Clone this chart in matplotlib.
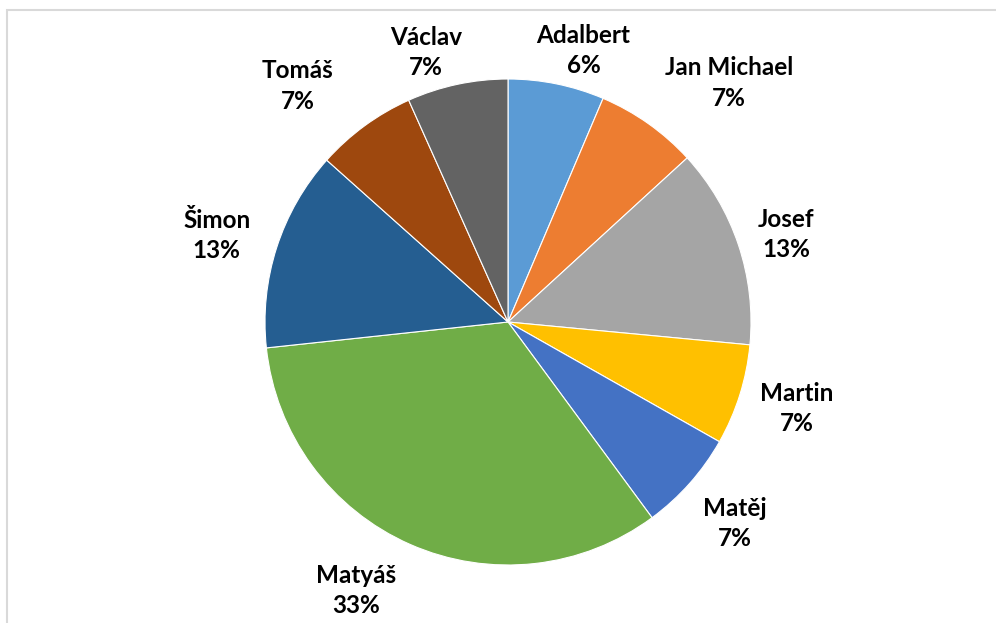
import matplotlib
matplotlib.use("Agg")
import numpy as np
import matplotlib.pyplot as plt
from matplotlib.patches import Rectangle

names = ["Adalbert", "Jan Michael", "Josef", "Martin", "Matěj", "Matyáš", "Šimon", "Tomáš", "Václav"]
values = [6.4, 6.8, 13.3, 6.7, 6.7, 33.4, 13.3, 6.7, 6.7]
colors = ["#5B9BD5", "#ED7D31", "#A5A5A5", "#FFC000", "#4472C4",
          "#70AD47", "#255E91", "#9E480E", "#636363"]

# label placement (radius multiple, angle nudge in degrees), like Excel's best fit
label_dist = [1.16, 1.34, 1.20, 1.24, 1.25, 1.27, 1.25, 1.30, 1.16]
label_turn = [-4, -7.5, -1, 0.7, 0, -5.7, 1.3, 5.5, 4.8]

total = sum(values)
labels = [f"{n}\n{v / total * 100:.0f}%" for n, v in zip(names, values)]

plt.rcParams['font.family'] = ['Lato', 'DejaVu Sans']

W, H = 996, 623
fig = plt.figure(figsize=(W / 100, H / 100), dpi=100)
ax = fig.add_axes([0, 0, 1, 1])

wedges, texts = ax.pie(values, labels=labels, colors=colors, startangle=90,
                       counterclock=False,
                       wedgeprops=dict(edgecolor="white", linewidth=0.8),
                       textprops=dict(fontsize=17.5, fontweight="bold", color="black"))
for w, t, d, turn in zip(wedges, texts, label_dist, label_turn):
    mid = np.deg2rad((w.theta1 + w.theta2) / 2 + turn)
    t.set_position((d * np.cos(mid), d * np.sin(mid)))
    t.set_ha("center")
    t.set_va("center")
    t.set_linespacing(1.38)

# pie centre at (508, 322) px, radius 243 px
cx, cy, r = 508, 322, 243
ax.set_xlim(-cx / r, (W - cx) / r)
ax.set_ylim(-(H - cy) / r, cy / r)
ax.set_aspect("auto")
ax.axis("off")

fig.patches.append(Rectangle((6.5 / W, -0.1), 1.2, 1.1 - 10.5 / H,
                             transform=fig.transFigure, fill=False,
                             edgecolor="#D9D9D9", linewidth=1.5))

fig.savefig("out.png", dpi=100, facecolor="white")
